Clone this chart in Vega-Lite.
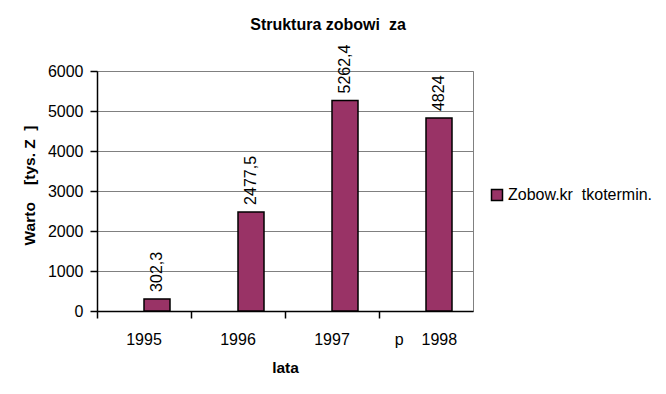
{
  "$schema": "https://vega.github.io/schema/vega-lite/v6.json",
  "width": 376,
  "height": 240,
  "autosize": {"type": "none"},
  "padding": {"left": 97, "top": 71, "right": 193, "bottom": 83},
  "background": "white",
  "title": {
    "text": "Struktura zobowi\u00a0\u00a0za",
    "font": "Liberation Sans",
    "fontSize": 16,
    "fontWeight": "bold",
    "color": "black",
    "anchor": "middle",
    "frame": "group",
    "dx": 43,
    "dy": 14,
    "offset": 13,
    "baseline": "alphabetic"
  },
  "data": {
    "values": [
      {"rok": "1995", "wartosc": 302.3, "etykieta": "302,3", "seria": "Zobow.kr\u00a0\u00a0tkotermin."},
      {"rok": "1996", "wartosc": 2477.5, "etykieta": "2477,5", "seria": "Zobow.kr\u00a0\u00a0tkotermin."},
      {"rok": "1997", "wartosc": 5262.4, "etykieta": "5262,4", "seria": "Zobow.kr\u00a0\u00a0tkotermin."},
      {"rok": "p\u00a0\u00a0\u00a0\u00a01998", "wartosc": 4824, "etykieta": "4824", "seria": "Zobow.kr\u00a0\u00a0tkotermin."}
    ]
  },
  "layer": [
    {
      "mark": {"type": "bar", "width": 26, "xOffset": 13, "stroke": "black", "strokeWidth": 1.5},
      "encoding": {
        "x": {
          "field": "rok",
          "type": "nominal",
          "sort": null,
          "scale": {"paddingInner": 0, "paddingOuter": 0},
          "title": "lata"
        },
        "y": {
          "field": "wartosc",
          "type": "quantitative",
          "scale": {"domain": [0, 6000]},
          "axis": {"format": "d"},
          "title": "Warto\u00a0\u00a0\u00a0\u00a0[tys. Z\u00a0\u00a0]"
        },
        "color": {
          "field": "seria",
          "type": "nominal",
          "scale": {"range": ["#993366"]},
          "legend": {
            "orient": "none",
            "legendX": 392,
            "legendY": 116,
            "padding": 0,
            "title": null,
            "symbolType": "square",
            "symbolSize": 121,
            "symbolStrokeColor": "black",
            "symbolStrokeWidth": 1.5,
            "labelFont": "Liberation Sans",
            "labelFontSize": 16,
            "labelColor": "black",
            "labelOffset": 3
          }
        }
      }
    },
    {
      "mark": {
        "type": "text",
        "angle": 270,
        "align": "left",
        "baseline": "middle",
        "dx": 7,
        "xOffset": 13,
        "font": "Liberation Sans",
        "fontSize": 16,
        "color": "black"
      },
      "encoding": {
        "x": {"field": "rok", "type": "nominal", "sort": null},
        "y": {"field": "wartosc", "type": "quantitative"},
        "text": {"field": "etykieta"}
      }
    }
  ],
  "config": {
    "view": {"stroke": "#808080", "strokeWidth": 1},
    "font": "Liberation Sans",
    "axis": {
      "labelFont": "Liberation Sans",
      "labelFontSize": 16,
      "labelColor": "black",
      "titleFont": "Liberation Sans",
      "titleFontSize": 15.5,
      "titleFontWeight": "bold",
      "titleColor": "black",
      "domainColor": "black",
      "domainWidth": 1.5,
      "tickColor": "black",
      "tickWidth": 1.5,
      "tickSize": 7,
      "gridColor": "#808080",
      "gridWidth": 1
    },
    "axisX": {
      "grid": false,
      "bandPosition": 0,
      "labelPadding": 13,
      "labelAngle": 0,
      "titleY": 56,
      "titleBaseline": "middle"
    },
    "axisY": {
      "grid": true,
      "values": [0, 1000, 2000, 3000, 4000, 5000, 6000],
      "labelPadding": 7,
      "titleX": -68,
      "titleY": 114,
      "titleAngle": 270,
      "titleAlign": "center",
      "titleBaseline": "middle"
    }
  }
}
